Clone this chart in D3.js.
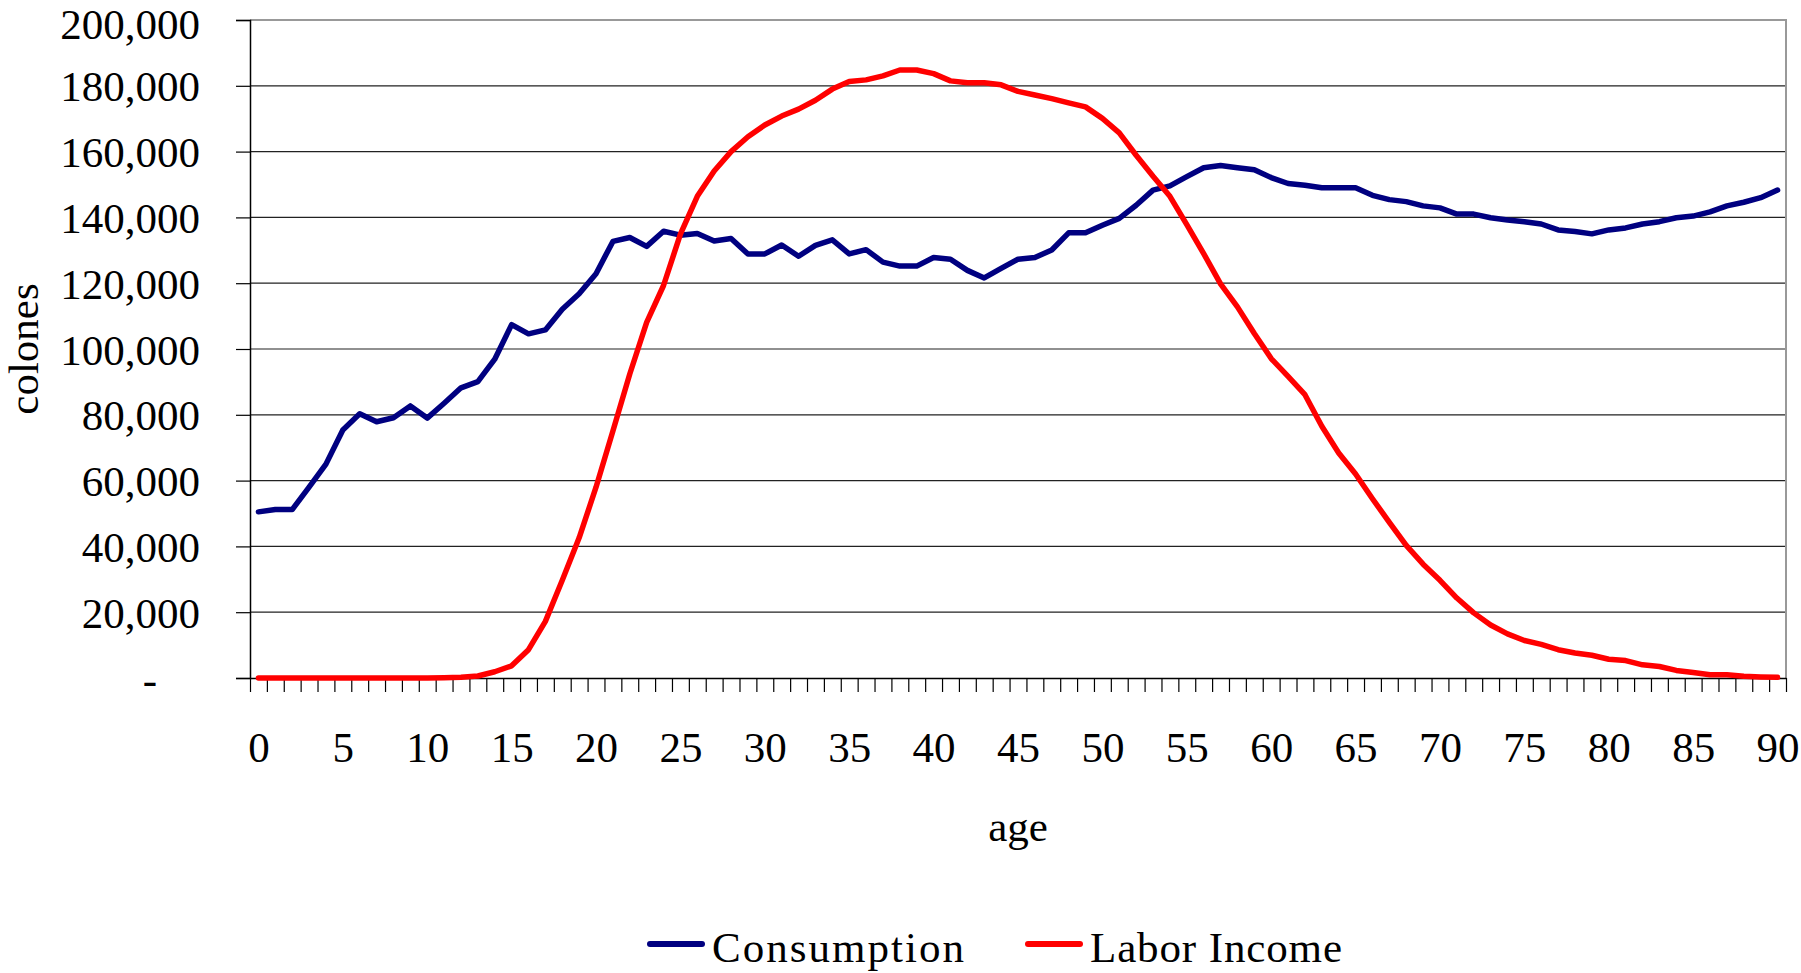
<!DOCTYPE html>
<html>
<head>
<meta charset="utf-8">
<script src="https://cdn.jsdelivr.net/npm/d3@7"></script>
<style>
  html, body { margin: 0; padding: 0; background: #fff; }
  svg { display: block; }
  text { font-family: "Liberation Serif", "DejaVu Serif", serif; fill: #000; }
</style>
</head>
<body>
<svg id="chart" width="1801" height="973"></svg>
<script>
// ages 0..90
const ages = d3.range(0, 91);

const consumption = [
  50500, 51200, 51200, 58000, 65000, 75400, 80300, 77900, 79100, 82700,
  79000, 83500, 88200, 90100, 96900, 107400, 104600, 105800, 112100, 116800,
  122900, 132700, 133900, 131200, 135800, 134600, 135100, 132800, 133600, 128900,
  128900, 131600, 128200, 131500, 133200, 128900, 130200, 126400, 125200, 125200,
  127800, 127300, 123900, 121600, 124500, 127300, 127800, 130100, 135300, 135300,
  137600, 139700, 143700, 148300, 149600, 152400, 155100, 155800, 155100, 154500,
  152100, 150300, 149800, 149000, 149000, 149000, 146700, 145400, 144800, 143500,
  142900, 141000, 141000, 139900, 139200, 138700, 138000, 136200, 135700, 135000,
  136200, 136800, 138000, 138700, 139900, 140400, 141700, 143500, 144600, 146000,
  148300
];

const laborIncome = [
  0, 0, 0, 0, 0, 0, 0, 0, 0, 0,
  0, 100, 200, 600, 1900, 3700, 8600, 17200, 29700, 42600,
  58000, 75100, 92400, 108100, 119300, 134900, 146400, 154100, 160000, 164500,
  168100, 170800, 172900, 175600, 179000, 181300, 181800, 183000, 184800, 184800,
  183700, 181500, 180900, 180900, 180300, 178300, 177200, 176100, 174800, 173600,
  170100, 165700, 158900, 152500, 146400, 137800, 129000, 119800, 112800, 104700,
  97100, 91700, 86100, 76500, 68400, 62000, 54500, 47300, 40300, 34600,
  29700, 24300, 19800, 16100, 13400, 11400, 10200, 8600, 7600, 6900,
  5700, 5300, 4000, 3500, 2300, 1700, 1000, 1000, 500, 300,
  200
];

const yTicks = d3.range(0, 200001, 20000);
const xLabelAges = d3.range(0, 91, 5);
const seriesNames = ["Consumption", "Labor Income"];
const seriesColors = ["#000080", "#ff0000"];

const svg = d3.select("#chart");
const plotLeft = 250, plotRight = 1786, plotTop = 20, plotBottom = 678;

// category axis: each age sits in the middle of its slot
const x = d3.scaleLinear().domain([-0.5, 90.5]).range([plotLeft, plotRight]);
const y = d3.scaleLinear().domain([0, 200000]).range([plotBottom, plotTop]);

// gridlines
svg.append("g")
  .selectAll("line")
  .data(yTicks.filter(d => d > 0 && d < 200000))
  .join("line")
    .attr("x1", plotLeft).attr("x2", plotRight)
    .attr("y1", d => y(d)).attr("y2", d => y(d))
    .attr("stroke", "#222").attr("stroke-width", 1.2);

// plot area border (top + right, gray)
svg.append("path")
  .attr("d", `M${plotLeft},${y(200000)}H${plotRight}V${plotBottom}`)
  .attr("fill", "none")
  .attr("stroke", "#999")
  .attr("stroke-width", 2);

// y axis
const fmt = d3.format(",");
const yAxis = svg.append("g")
  .attr("transform", `translate(${plotLeft},0)`)
  .call(d3.axisLeft(y)
    .tickValues(yTicks)
    .tickSize(14)
    .tickPadding(36)
    .tickFormat(d => d === 0 ? "-\u2007\u2007" : fmt(d)));
yAxis.select(".domain").attr("stroke", "#000").attr("stroke-width", 1.5);
yAxis.selectAll(".tick line").attr("stroke", "#000").attr("stroke-width", 1.2);
yAxis.selectAll("text")
  .attr("dy", d => d === 200000 ? "0.42em" : "0.35em")
  .style("font-size", "43px")
  .style("font-family", "'Liberation Serif', serif");

// x axis: tick marks between categories
const xTicks = svg.append("g")
  .attr("transform", `translate(0,${plotBottom})`)
  .call(d3.axisBottom(x)
    .tickValues(d3.range(-0.5, 91, 1))
    .tickSize(14)
    .tickSizeOuter(0)
    .tickFormat(""));
xTicks.select(".domain").attr("stroke", "#000").attr("stroke-width", 1.5);
xTicks.selectAll(".tick line").attr("stroke", "#000").attr("stroke-width", 1.2);

// x axis labels every 5 years
const xLabels = svg.append("g")
  .attr("transform", `translate(0,${plotBottom})`)
  .call(d3.axisBottom(x)
    .tickValues(xLabelAges)
    .tickSize(0)
    .tickFormat(d3.format("d")));
xLabels.select(".domain").remove();
xLabels.selectAll("text")
  .attr("y", 84)
  .attr("dy", null)
  .style("font-size", "43px")
  .style("font-family", "'Liberation Serif', serif");

// lines
const line = d3.line()
  .x((d, i) => x(ages[i]))
  .y(d => y(d));

[consumption, laborIncome].forEach((series, k) => {
  svg.append("path")
    .datum(series)
    .attr("d", line)
    .attr("fill", "none")
    .attr("stroke", seriesColors[k])
    .attr("stroke-width", 5.5)
    .attr("stroke-linejoin", "round")
    .attr("stroke-linecap", "round");
});

// axis titles
svg.append("text")
  .attr("x", (plotLeft + plotRight) / 2)
  .attr("y", 841)
  .attr("text-anchor", "middle")
  .style("font-size", "43px")
  .text("age");

svg.append("text")
  .attr("transform", `translate(38,${(plotTop + plotBottom) / 2}) rotate(-90)`)
  .attr("text-anchor", "middle")
  .style("font-size", "43px")
  .text("colones");

// legend
const legendX = [650, 1028];
const legend = svg.append("g")
  .selectAll("g")
  .data(seriesNames)
  .join("g")
    .attr("transform", (d, i) => `translate(${legendX[i]},944)`);
legend.append("line")
  .attr("x1", 0).attr("x2", 52)
  .attr("stroke", (d, i) => seriesColors[i])
  .attr("stroke-width", 6)
  .attr("stroke-linecap", "round");
legend.append("text")
  .attr("x", 62)
  .attr("y", 18)
  .attr("textLength", 252)
  .attr("lengthAdjust", "spacing")
  .style("font-size", "43px")
  .text(d => d);
</script>
</body>
</html>
